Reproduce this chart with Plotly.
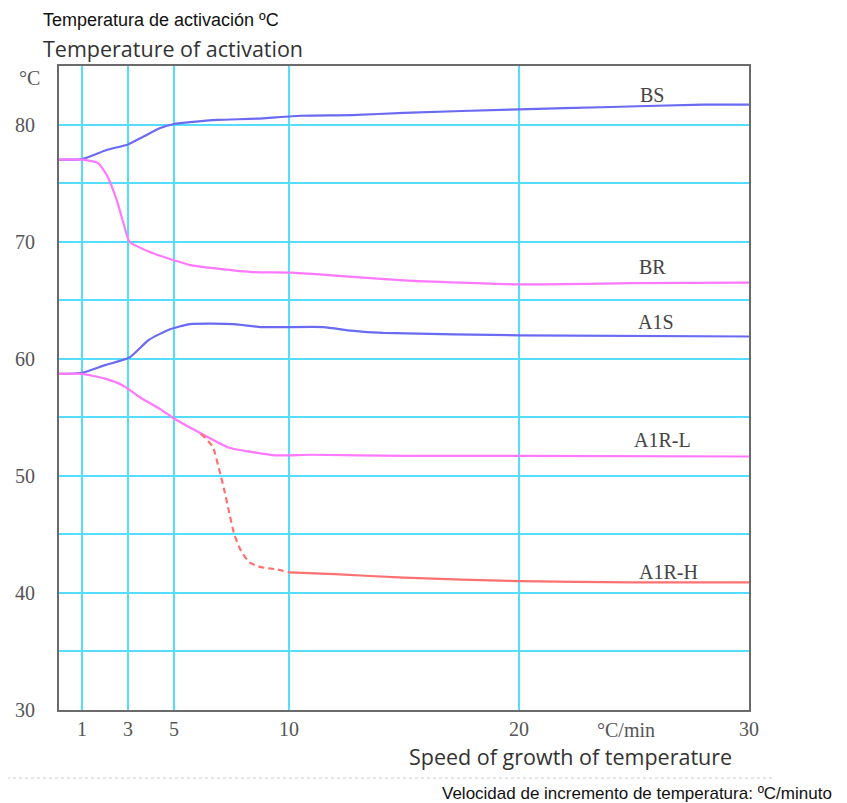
import plotly.graph_objects as go

# ---- data ----
speed_bs = [0, 1.0, 2.1, 3.0, 3.6, 4.4, 5.0, 5.7, 6.9, 8.6, 10.5, 12.7, 15, 20, 24, 28, 30]
temp_bs = [77.0, 77.05, 77.85, 78.3, 78.9, 79.7, 80.05, 80.2, 80.4, 80.5, 80.75, 80.8, 81.0, 81.3, 81.5, 81.7, 81.7]

speed_br = [0, 1.0, 1.7, 2.1, 2.5, 2.8, 3.06, 3.9, 4.7, 5.7, 6.9, 8.4, 10.1, 12.0, 15, 20, 25, 30]
temp_br = [77.0, 77.0, 76.7, 75.6, 73.6, 71.6, 70.0, 69.15, 68.6, 68.0, 67.7, 67.4, 67.35, 67.1, 66.7, 66.35, 66.45, 66.5]

speed_a1s = [0, 1, 2, 3.06, 3.9, 4.8, 5.7, 7.6, 8.8, 11.5, 12.7, 14.1, 20, 30]
temp_a1s = [58.7, 58.8, 59.45, 60.1, 61.6, 62.5, 62.96, 62.96, 62.7, 62.7, 62.4, 62.2, 62.0, 61.9]

speed_a1rl = [0, 1, 2, 2.8, 3.6, 4.4, 5.0, 6.1, 7.4, 8.5, 9.4, 11, 15, 20, 30]
temp_a1rl = [58.7, 58.7, 58.3, 57.7, 56.6, 55.7, 54.9, 53.7, 52.4, 52.0, 51.75, 51.8, 51.7, 51.7, 51.65]

speed_a1rh_dash = [6.17, 6.68, 6.97, 7.19, 7.41, 7.62, 7.91, 8.28, 8.78, 9.5, 10.0]
temp_a1rh_dash = [53.6, 52.5, 50.5, 48.75, 46.75, 45.0, 43.6, 42.6, 42.2, 42.0, 41.75]
speed_a1rh = [10, 12, 15, 20, 25, 30]
temp_a1rh = [41.75, 41.6, 41.3, 41.0, 40.9, 40.9]

x_ticks = [1, 3, 5, 10, 20, 30]
y_ticks = [30, 35, 40, 45, 50, 55, 60, 65, 70, 75, 80]
y_ticktext = ["30", "", "40", "", "50", "", "60", "", "70", "", "80"]

series_labels = ["BS", "BR", "A1S", "A1R-L", "A1R-H"]
label_x = [25.8, 25.8, 25.96, 26.26, 26.5]
label_y = [82.56, 67.8, 63.1, 53.1, 41.8]

BLUE = "#6a6af2"
MAGENTA = "#ff78ff"
RED = "#ff7070"
GRID = "#55ddff"

# reference plot-area geometry (pixels) used to place outside texts
PL, PT, PW, PH = 58, 65, 690, 644
def px(x):
    return (x - PL) / PW
def py(y):
    return (PT + PH - y) / PH

fig = go.Figure()

def add_line(x, y, color, dash="solid"):
    fig.add_trace(go.Scatter(x=x, y=y, mode="lines",
                             line=dict(color=color, width=2.2, dash=dash, shape="spline", smoothing=0.5),
                             showlegend=False, hoverinfo="skip"))

add_line(speed_bs, temp_bs, BLUE)
add_line(speed_br, temp_br, MAGENTA)
add_line(speed_a1s, temp_a1s, BLUE)
add_line(speed_a1rl, temp_a1rl, MAGENTA)
add_line(speed_a1rh_dash, temp_a1rh_dash, RED, dash="6px,4px")
add_line(speed_a1rh, temp_a1rh, RED)

serif = "Liberation Serif"
for t, lx, ly in zip(series_labels, label_x, label_y):
    fig.add_annotation(x=lx, y=ly, text=t, showarrow=False, xanchor="center", yanchor="middle",
                       font=dict(family=serif, size=20, color="#444444"))

def note(x, y, text, font, xanchor="center"):
    fig.add_annotation(xref="paper", yref="paper", x=px(x), y=py(y), text=text, showarrow=False,
                       xanchor=xanchor, yanchor="middle", font=font)

note(28, 77, "°C", dict(family=serif, size=20, color="#555555"))
note(625, 729, "°C/min", dict(family=serif, size=20, color="#555555"))
note(40, 19, "Temperatura de activación ºC", dict(family="Liberation Sans", size=18, color="#111111"), "left")
note(40, 47, "Temperature of activation", dict(family="Open Sans", size=21.5, color="#333333"), "left")
note(733, 755, "Speed of growth of temperature", dict(family="Open Sans", size=21.5, color="#333333"), "right")
note(833, 792, "Velocidad de incremento de temperatura: ºC/minuto",
     dict(family="Liberation Sans", size=17, color="#111111"), "right")

fig.add_shape(type="line", xref="paper", yref="paper",
              x0=px(0), x1=px(773), y0=py(777), y1=py(777),
              line=dict(color="#cccccc", width=1, dash="dot"))

fig.update_xaxes(range=[0, 30], tickvals=x_ticks, ticktext=[str(v) for v in x_ticks],
                 showgrid=True, gridcolor=GRID, gridwidth=2,
                 showline=True, mirror=True, linecolor="#6b6b6b", linewidth=2,
                 zeroline=False, ticks="", ticklabelstandoff=0, automargin=False,
                 tickfont=dict(family=serif, size=20, color="#555555"))
fig.update_yaxes(range=[30, 85], tickvals=y_ticks, ticktext=y_ticktext,
                 showgrid=True, gridcolor=GRID, gridwidth=2,
                 showline=True, mirror=True, linecolor="#6b6b6b", linewidth=2,
                 zeroline=False, ticks="", ticklabelstandoff=18, automargin=False,
                 tickfont=dict(family=serif, size=20, color="#555555"))

OFF = 7
fig.update_layout(width=847, height=803,
                  margin=dict(l=PL - OFF, r=847 - (PL - OFF) - PW, t=PT - OFF, b=803 - (PT - OFF) - PH),
                  plot_bgcolor="white", paper_bgcolor="white")

fig.write_html("out.html")
